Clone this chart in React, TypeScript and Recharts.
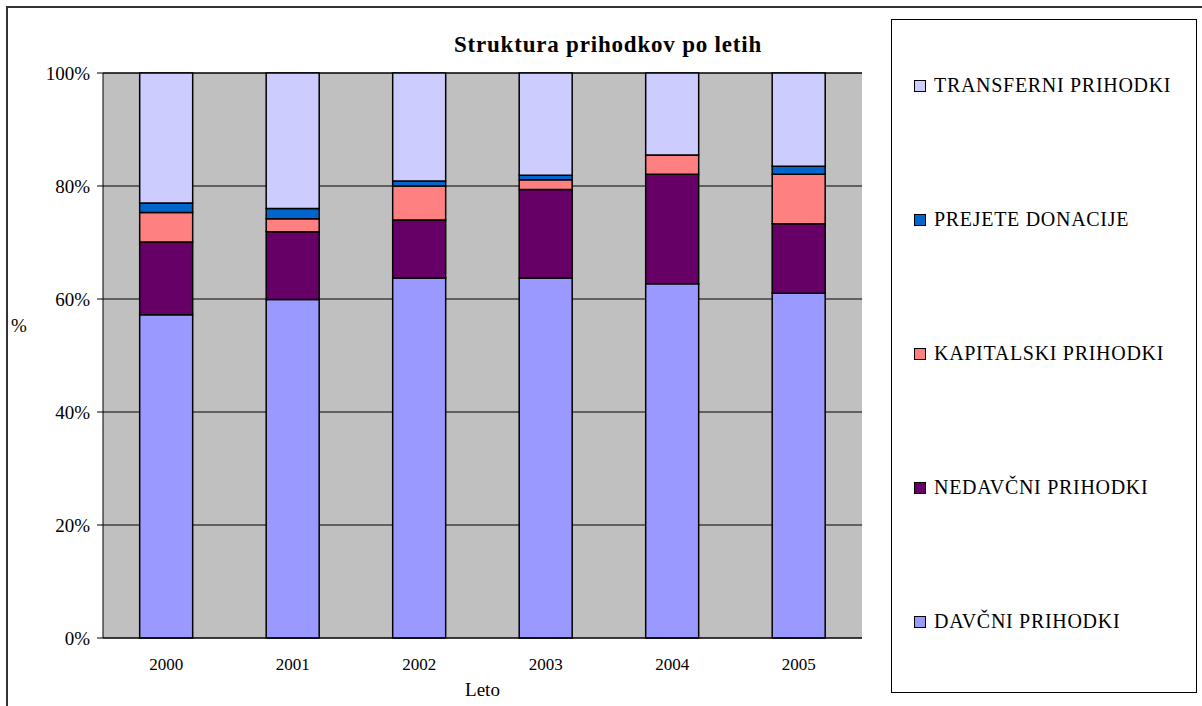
import React from 'react';
import {
  BarChart,
  Bar,
  XAxis,
  YAxis,
  CartesianGrid,
} from 'recharts';

// leto (year) categories
const years = ['2000', '2001', '2002', '2003', '2004', '2005'];

// shares in % per year
const davcni = [57.2, 59.9, 63.7, 63.7, 62.7, 61.0];
const nedavcni = [12.9, 12.0, 10.3, 15.7, 19.4, 12.3];
const kapitalski = [5.2, 2.3, 6.0, 1.7, 3.4, 8.8];
const donacije = [1.7, 1.8, 0.9, 0.8, 0.0, 1.4];
const transferni = [23.0, 24.0, 19.1, 18.1, 14.5, 16.5];

const yTicks = [0, 20, 40, 60, 80, 100];
const boundaryTicks = [0, 1, 2, 3, 4, 5, 6];

const series = [
  { key: 'davcni', name: 'DAVČNI PRIHODKI', color: '#9999FF' },
  { key: 'nedavcni', name: 'NEDAVČNI PRIHODKI', color: '#660066' },
  { key: 'kapitalski', name: 'KAPITALSKI PRIHODKI', color: '#FF8080' },
  { key: 'donacije', name: 'PREJETE DONACIJE', color: '#0066CC' },
  { key: 'transferni', name: 'TRANSFERNI PRIHODKI', color: '#CCCCFF' },
];

const data = years.map((year, i) => ({
  year,
  davcni: davcni[i],
  nedavcni: nedavcni[i],
  kapitalski: kapitalski[i],
  donacije: donacije[i],
  transferni: transferni[i],
}));

const FONT = '"Liberation Serif", "Times New Roman", serif';

// legend box drawn beside the chart, top entry = top of the stack
const LegendBox = () => (
  <div
    style={{
      position: 'absolute',
      left: 891,
      top: 19,
      width: 306,
      height: 674,
      border: '1px solid #000',
      boxSizing: 'border-box',
      background: '#fff',
    }}
  >
    {[...series].reverse().map((s, i) => (
      <div
        key={s.key}
        style={{
          position: 'absolute',
          left: 22,
          top: 54 + i * 134,
          display: 'flex',
          alignItems: 'center',
          fontFamily: FONT,
          fontSize: 20,
          letterSpacing: 0.7,
          color: '#000',
          whiteSpace: 'nowrap',
        }}
      >
        <span
          style={{
            display: 'inline-block',
            width: 10,
            height: 10,
            background: s.color,
            border: '1.5px solid #000',
            marginRight: 8,
          }}
        />
        {s.name}
      </div>
    ))}
  </div>
);

export default function App() {
  return (
    <div
      style={{
        position: 'absolute',
        left: 0,
        top: 0,
        width: 1202,
        height: 706,
        overflow: 'hidden',
        background: '#fff',
        fontFamily: FONT,
      }}
    >
      <div
        style={{
          position: 'absolute',
          left: 6,
          top: 6,
          width: 1220,
          height: 730,
          border: '2px solid #333',
        }}
      />
      <div
        style={{
          position: 'absolute',
          left: 0,
          top: 32,
          width: 1216,
          textAlign: 'center',
          fontFamily: FONT,
          fontWeight: 'bold',
          fontSize: 23,
          letterSpacing: 0.8,
          color: '#000',
        }}
      >
        Struktura prihodkov po letih
      </div>
      <BarChart
        width={1202}
        height={706}
        data={data}
        margin={{ top: 73, right: 340, bottom: 8, left: 8 }}
        barCategoryGap="29%"
        style={{ position: 'absolute', left: 0, top: 0, fontFamily: FONT }}
      >
        <CartesianGrid
          xAxisId="cat"
          vertical={false}
          horizontal
          stroke="#000"
          fill="#C0C0C0"
          fillOpacity={1}
        />
        <XAxis
          xAxisId="bounds"
          type="number"
          domain={[0, 6]}
          ticks={boundaryTicks}
          tickFormatter={() => ''}
          tickSize={6}
          tickLine={{ stroke: '#000' }}
          axisLine={false}
          height={0}
        />
        <XAxis
          xAxisId="cat"
          dataKey="year"
          height={60}
          tickLine={false}
          tickMargin={14}
          axisLine={{ stroke: '#000' }}
          tick={{ fill: '#000', fontSize: 17, fontFamily: FONT }}
          label={{
            value: 'Leto',
            position: 'insideBottom',
            offset: 2,
            fill: '#000',
            fontSize: 19,
            fontFamily: FONT,
          }}
        />
        <YAxis
          domain={[0, 100]}
          ticks={yTicks}
          width={95}
          tickSize={6}
          tickMargin={7}
          tickFormatter={(v) => `${v}%`}
          axisLine={{ stroke: '#000' }}
          tickLine={{ stroke: '#000' }}
          tick={{ fill: '#000', fontSize: 19, fontFamily: FONT }}
          label={{
            value: '%',
            position: 'insideLeft',
            offset: 3,
            dy: -30,
            fill: '#000',
            fontSize: 19,
            fontFamily: FONT,
          }}
        />
        <YAxis
          yAxisId="r"
          orientation="right"
          domain={[0, 100]}
          width={0}
          tick={false}
          tickLine={false}
          axisLine={{ stroke: '#808080' }}
        />
        {series.map((s) => (
          <Bar
            key={s.key}
            xAxisId="cat"
            dataKey={s.key}
            name={s.name}
            stackId="a"
            fill={s.color}
            stroke="#000"
            strokeWidth={1.5}
            isAnimationActive={false}
          />
        ))}
      </BarChart>
      <LegendBox />
    </div>
  );
}
